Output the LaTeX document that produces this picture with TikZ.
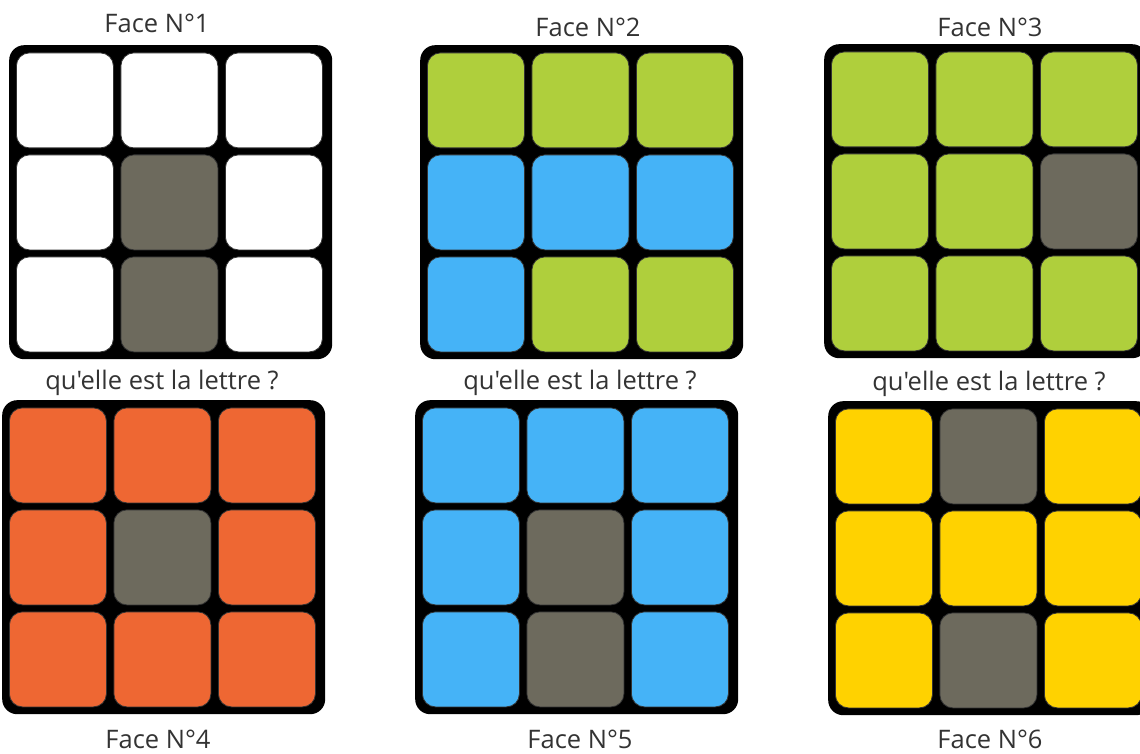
\documentclass[tikz,border=0pt]{standalone}
\usepackage{fontspec}
\setmainfont{Open Sans}[Ligatures=TeXOff]
\definecolor{cwhite}{HTML}{FFFFFF}
\definecolor{cgray}{HTML}{6D6A5D}
\definecolor{cgreen}{HTML}{AFCF3C}
\definecolor{cblue}{HTML}{45B3F7}
\definecolor{corange}{HTML}{EE6733}
\definecolor{cyellow}{HTML}{FFD200}
\definecolor{ctext}{HTML}{333333}
\newcommand\rubikface[4]{%
  \node[faceframe, anchor=north west] (#1) at (#2,#3) {};
  \foreach \c [count=\k from 0] in {#4} {
    \pgfmathtruncatemacro\col{mod(\k,3)}
    \pgfmathtruncatemacro\row{int(\k/3)}
    \node[facecell, fill=\c, anchor=north west] (#1-\k) at ({#2+7+104.5*\col},{#3+7.5+102*\row}) {};
  }
}
\begin{document}
\begin{tikzpicture}[x=1pt,y=-1pt,
  faceframe/.style={fill=black, rounded corners=15pt, minimum width=323pt, minimum height=314pt, inner sep=0pt},
  facecell/.style={draw=black!80, line width=0.8pt, rounded corners=13pt, minimum width=97pt, minimum height=95pt, inner sep=0pt},
  lbl/.style={anchor=base, text=ctext, font=\fontsize{25.5}{30}\selectfont, inner sep=0pt}]
\useasboundingbox (0,0) rectangle (1140,754);
\clip (0,0) rectangle (1140,754);
\fill[white] (0,0) rectangle (1140,754);

\rubikface{f1}{9}{45}{cwhite,cwhite,cwhite,cwhite,cgray,cwhite,cwhite,cgray,cwhite}
\rubikface{f2}{420}{45}{cgreen,cgreen,cgreen,cblue,cblue,cblue,cblue,cgreen,cgreen}
\rubikface{f3}{824}{44}{cgreen,cgreen,cgreen,cgreen,cgreen,cgray,cgreen,cgreen,cgreen}
\rubikface{f4}{2}{400}{corange,corange,corange,corange,cgray,corange,corange,corange,corange}
\rubikface{f5}{415}{400}{cblue,cblue,cblue,cblue,cgray,cblue,cblue,cgray,cblue}
\rubikface{f6}{828}{401}{cyellow,cgray,cyellow,cyellow,cyellow,cyellow,cyellow,cgray,cyellow}

\node[lbl] (t1) at (157,33) {Face N°1};
\node[lbl] (t2) at (588,37) {Face N°2};
\node[lbl] (t3) at (990,37) {Face N°3};
\node[lbl] (q1) at (162,389) {qu'elle est la lettre ?};
\node[lbl] (q2) at (580,389) {qu'elle est la lettre ?};
\node[lbl] (q3) at (989,390) {qu'elle est la lettre ?};
\node[lbl] (t4) at (158,748) {Face N°4};
\node[lbl] (t5) at (580,748) {Face N°5};
\node[lbl] (t6) at (990,748) {Face N°6};
\end{tikzpicture}
\end{document}
